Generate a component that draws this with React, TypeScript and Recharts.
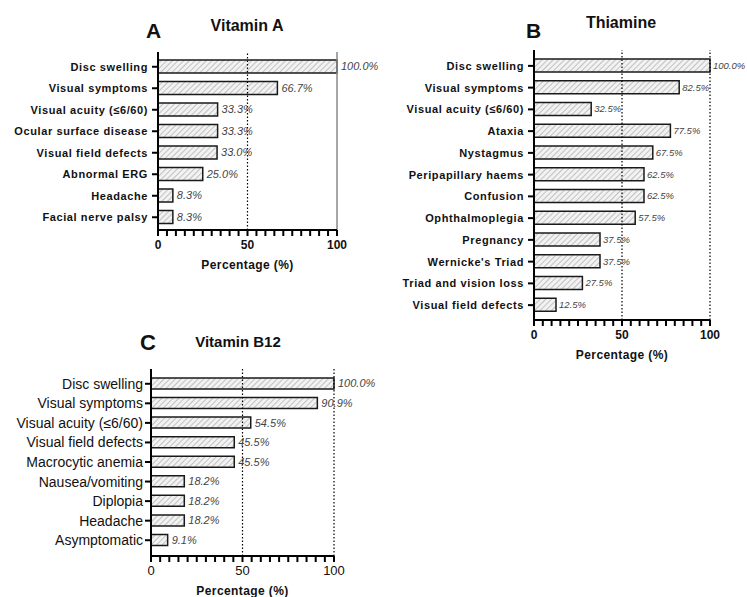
import { BarChart, Bar, XAxis, YAxis, ReferenceLine, LabelList } from 'recharts';

const FONT = '"Liberation Sans", Arial, sans-serif';

const A_LABELS = [
  'Disc swelling',
  'Visual symptoms',
  'Visual acuity (≤6/60)',
  'Ocular surface disease',
  'Visual field defects',
  'Abnormal ERG',
  'Headache',
  'Facial nerve palsy',
];
const A_VALUES = [100, 66.7, 33.3, 33.3, 33.0, 25.0, 8.3, 8.3];

const B_LABELS = [
  'Disc swelling',
  'Visual symptoms',
  'Visual acuity (≤6/60)',
  'Ataxia',
  'Nystagmus',
  'Peripapillary haems',
  'Confusion',
  'Ophthalmoplegia',
  'Pregnancy',
  "Wernicke's Triad",
  'Triad and vision loss',
  'Visual field defects',
];
const B_VALUES = [100, 82.5, 32.5, 77.5, 67.5, 62.5, 62.5, 57.5, 37.5, 37.5, 27.5, 12.5];

const C_LABELS = [
  'Disc swelling',
  'Visual symptoms',
  'Visual acuity (≤6/60)',
  'Visual field defects',
  'Macrocytic anemia',
  'Nausea/vomiting',
  'Diplopia',
  'Headache',
  'Asymptomatic',
];
const C_VALUES = [100, 90.9, 54.5, 45.5, 45.5, 18.2, 18.2, 18.2, 9.1];

const X_TICKS = [0, 5, 10, 15, 20, 25, 30, 35, 40, 45, 50, 55, 60, 65, 70, 75, 80, 85, 90, 95, 100];
const X_MAJOR = [0, 50, 100];

interface PanelProps {
  labels: string[];
  values: number[];
  left: number;
  top: number;
  width: number;
  height: number;
  marginTop: number;
  marginBottom: number;
  yWidth: number;
  plotWidth: number;
  barSize: number;
  padTop: number;
  padBottom: number;
  boldLabels: boolean;
  tickMargin: number;
  valueFont: number;
  valueOffset: number;
  solid100?: boolean;
}

function Panel(p: PanelProps) {
  const data = p.labels.map((name, i) => ({ name, value: p.values[i] }));
  const yTick = p.boldLabels
    ? { fontSize: 11, fontWeight: 'bold', fill: '#111', letterSpacing: 0.6, fontFamily: FONT }
    : { fontSize: 14, fill: '#111', fontFamily: FONT };
  const xTick = p.boldLabels
    ? { fontSize: 12, fontWeight: 'bold', fill: '#111', fontFamily: FONT }
    : { fontSize: 13, fill: '#111', fontFamily: FONT };
  return (
    <div style={{ position: 'absolute', left: p.left, top: p.top }}>
      <BarChart
        width={p.width}
        height={p.height}
        data={data}
        layout="vertical"
        margin={{ top: p.marginTop, right: p.width - p.yWidth - p.plotWidth, left: 0, bottom: p.marginBottom }}
      >
        <XAxis
          type="number"
          domain={[0, 100]}
          ticks={X_TICKS}
          interval={0}
          tickSize={6}
          tickMargin={4}
          height={39}
          axisLine={{ stroke: '#000', strokeWidth: 2 }}
          tickLine={{ stroke: '#000', strokeWidth: 2 }}
          tick={xTick}
          tickFormatter={(v: number) => (X_MAJOR.includes(v) ? String(v) : ' ')}
          label={{
            value: 'Percentage (%)',
            position: 'insideBottom',
            offset: 0,
            style: { fontFamily: FONT, fontSize: 12, fontWeight: 'bold', fill: '#111', letterSpacing: 0.4 },
          }}
        />
        <YAxis
          type="category"
          dataKey="name"
          width={p.yWidth}
          padding={{ top: p.padTop, bottom: p.padBottom }}
          axisLine={{ stroke: '#000', strokeWidth: 2 }}
          tickLine={{ stroke: '#000', strokeWidth: 2 }}
          tickSize={6}
          tickMargin={p.tickMargin}
          interval={0}
          tick={yTick}
        />
        <ReferenceLine x={50} stroke="#000" strokeWidth={1.2} strokeDasharray="1.5 2" />
        <ReferenceLine
          x={100}
          stroke={p.solid100 ? '#888' : '#000'}
          strokeWidth={p.solid100 ? 1.5 : 1.2}
          strokeDasharray={p.solid100 ? undefined : '1.5 2'}
        />
        <Bar
          dataKey="value"
          barSize={p.barSize}
          fill="url(#hatch)"
          stroke="#1a1a1a"
          strokeWidth={1.5}
          isAnimationActive={false}
        >
          <LabelList
            dataKey="value"
            position="right"
            offset={p.valueOffset}
            formatter={(v: any) => `${Number(v).toFixed(1)}%`}
            style={{ fontFamily: FONT, fontSize: p.valueFont, fontStyle: 'italic', fill: '#444' }}
          />
        </Bar>
      </BarChart>
    </div>
  );
}

export default function App() {
  return (
    <div style={{ position: 'absolute', left: 0, top: 0, width: 747, height: 597, overflow: 'hidden', background: '#fff', fontFamily: FONT }}>
      <svg width={0} height={0} style={{ position: 'absolute' }}>
        <defs>
          <pattern id="hatch" patternUnits="userSpaceOnUse" width={4} height={4} patternTransform="rotate(45)">
            <rect width={4} height={4} fill="#f2f2f2" />
            <line x1={0} y1={0} x2={0} y2={4} stroke="#b5b5b5" strokeWidth={1.6} />
          </pattern>
        </defs>
      </svg>

      <svg width={747} height={597} style={{ position: 'absolute', left: 0, top: 0 }}>
        <text x={146} y={38} fontSize={21} fontWeight="bold" fill="#111">A</text>
        <text x={247} y={31} fontSize={16} fontWeight="bold" fill="#111" textAnchor="middle">Vitamin A</text>
        <text x={526} y={38} fontSize={21} fontWeight="bold" fill="#111">B</text>
        <text x={621} y={28} fontSize={16} fontWeight="bold" fill="#111" textAnchor="middle">Thiamine</text>
        <text x={140} y={350} fontSize={22} fontWeight="bold" fill="#111">C</text>
        <text x={238} y={347} fontSize={15} fontWeight="bold" fill="#111" textAnchor="middle">Vitamin B12</text>
      </svg>

      <Panel
        labels={A_LABELS}
        values={A_VALUES}
        left={0}
        top={40}
        width={380}
        height={235}
        marginTop={12}
        marginBottom={6}
        yWidth={158}
        plotWidth={179}
        barSize={13}
        padTop={4}
        padBottom={2}
        boldLabels
        tickMargin={4}
        valueFont={11}
        valueOffset={4}
        solid100
      />
      <Panel
        labels={B_LABELS}
        values={B_VALUES}
        left={380}
        top={40}
        width={367}
        height={325}
        marginTop={10}
        marginBottom={6}
        yWidth={154}
        plotWidth={176}
        barSize={13}
        padTop={5}
        padBottom={4}
        boldLabels
        tickMargin={4}
        valueFont={9.5}
        valueOffset={3}
      />
      <Panel
        labels={C_LABELS}
        values={C_VALUES}
        left={0}
        top={350}
        width={380}
        height={247}
        marginTop={19}
        marginBottom={2}
        yWidth={151}
        plotWidth={183}
        barSize={11}
        padTop={5}
        padBottom={6}
        boldLabels={false}
        tickMargin={2}
        valueFont={11}
        valueOffset={4}
      />
    </div>
  );
}
